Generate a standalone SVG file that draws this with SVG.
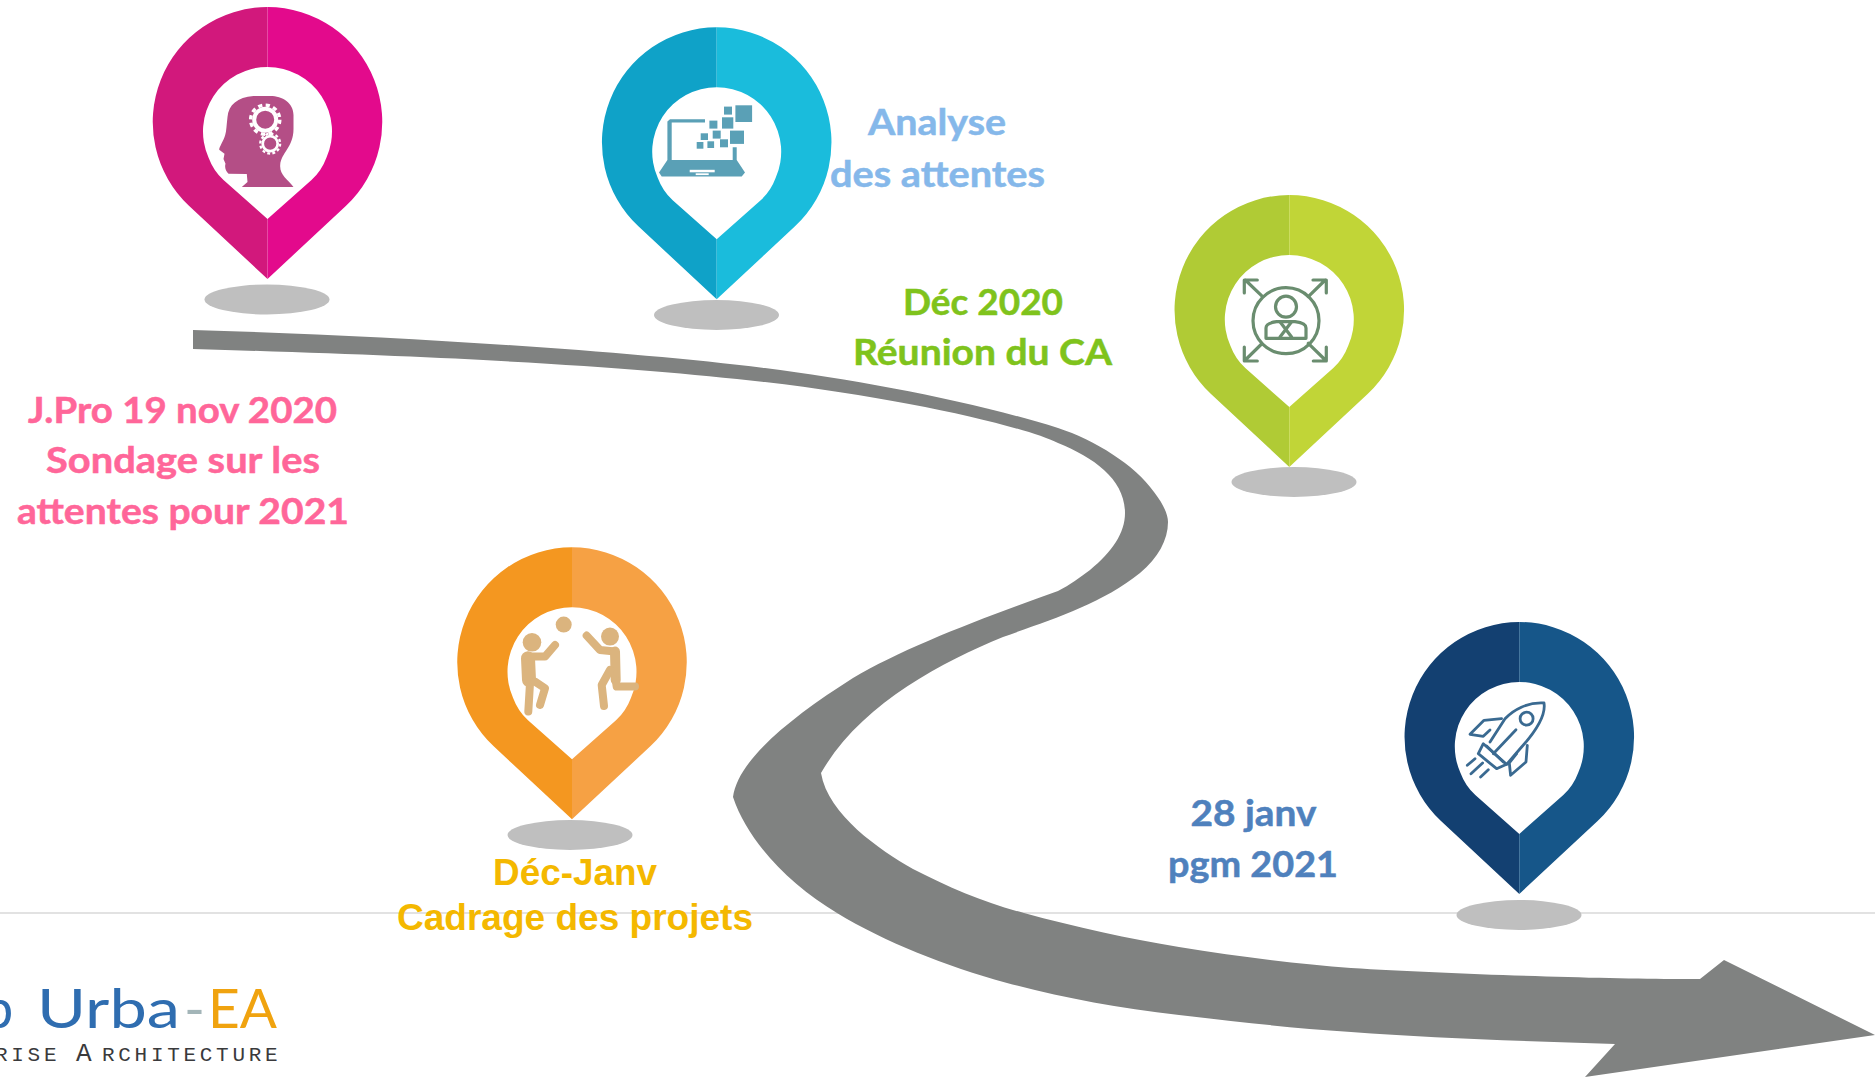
<svg xmlns="http://www.w3.org/2000/svg" width="1875" height="1077" viewBox="0 0 1875 1077">
<style>
.shadow{fill:#bfbfbf}
.hole{fill:#fff}
.lb{font-family:"Lato","Noto Sans",sans-serif;font-weight:700;font-size:35.500px;stroke-width:.5px}
.pink{fill:#ff6699;stroke:#ff6699}
.sky{fill:#85b8ea;stroke:#85b8ea}
.lime{fill:#7fc31c;stroke:#7fc31c}
.steel{fill:#4f81bd;stroke:#4f81bd}
.la{font-family:"Liberation Sans",Arial,sans-serif;font-weight:700;font-size:37px;fill:#f4b800}
.road{fill:#808281}
.logo{font-family:"Lato","Noto Sans",sans-serif;font-weight:400;font-size:54px}
.sub{font-family:"Liberation Mono",monospace;fill:#3a3a3c;font-size:21px;letter-spacing:3.700px}
.ln{fill:none;stroke-linecap:round;stroke-linejoin:round}
</style>
<defs>
<path id="pinL" d="M0 0A115 115 0 0 0-78.300 199L0 272Z"/>
<path id="pinR" d="M0 0A115 115 0 0 1 78.300 199L0 272Z"/>
<path id="hole" d="M0 212L-44 173Q-54 164 -59 150.500A64.500 64.500 0 1 1 59 150.500Q54 164 44 173Z"/>
<g id="gear">
<circle r="14.600" fill="none" stroke="#fff" stroke-width="3.400" stroke-dasharray="4.200 3.450"/>
<circle r="11" fill="#b44e86" stroke="#fff" stroke-width="4"/>
</g>
</defs>
<rect width="1875" height="1077" fill="#fff"/>
<line x1="0" y1="913" x2="1875" y2="913" stroke="#d9d9d9" stroke-width="1.600"/>
<g id="connectors">
<path class="road" d="M193 330C380 335 620 350 765 368C860 380 975 402 1058 428C1095 440 1135 465 1154 492C1164 505 1168 515 1168 522C1168 540 1158 558 1140 573C1100 605 1050 620 1003 637C940 663 860 705 821 773C828 815 880 850 913 869C950 888 985 903 1024 913C1075 927 1130 939 1179 947C1240 957 1300 964 1351 968C1450 974 1600 979 1680 979L1700 979L1724 960L1875 1035L1585 1077L1615 1044C1520 1041 1430 1038 1351 1032C1290 1028 1240 1022 1179 1015C1115 1008 1060 997 1007 983C945 966 885 942 837 913C790 885 748 842 733 797C738 760 790 718 853 678C905 647 985 617 1058 591C1070 585 1080 577 1090 570C1112 552 1125 533 1125 513C1125 480 1095 458 1058 443C1020 425 900 398 765 382C640 368 500 358 193 349Z"/>
</g>
<g id="node-jpro">
<ellipse class="shadow" cx="267" cy="299.500" rx="62.500" ry="15"/>
<g transform="translate(267.500 7)">
<use href="#pinL" fill="#d2187c"/><use href="#pinR" fill="#e30a8c"/><use href="#hole" class="hole"/>
<path fill="#b44e86" d="M26 180C20 172 12 168 12.700 158C13.500 146 26 140 26 122L26 108C26 96 15 89 2.700 89L-14 89C-30 90 -39 98 -40 110C-41 118 -41 124 -42.300 128C-44 134 -48.300 140 -48.300 142.700L-43 146.700L-44 152L-42 156.700C-43 160 -42 164 -39 166.700L-20.700 167L-20 175L-25.700 180Z"/>
<use href="#gear" transform="translate(-2.300 112.700)"/>
<use href="#gear" transform="translate(2.700 136.700) scale(.68)"/>
</g>
<text class="lb pink" x="28" y="422.500" textLength="309" lengthAdjust="spacingAndGlyphs">J.Pro 19 nov 2020</text>
<text class="lb pink" x="46" y="473" textLength="274" lengthAdjust="spacingAndGlyphs">Sondage sur les</text>
<text class="lb pink" x="17" y="523.500" textLength="332" lengthAdjust="spacingAndGlyphs">attentes pour 2021</text>
</g>
<g id="node-analyse">
<ellipse class="shadow" cx="716.500" cy="315" rx="62.500" ry="15"/>
<g transform="translate(716.700 27.300)">
<use href="#pinL" fill="#0fa2c8"/><use href="#pinR" fill="#1abcdc"/><use href="#hole" class="hole"/>
<path fill="#5aa0b6" fill-rule="evenodd" d="M-11.700 92L-46.700 92L-49.300 94.300L-49.300 132.700L-57.700 145.300L-55 149.300L25 149.300L28.300 145.300L20 132.700L20 120L16 120L16 132.700L-45 132.700L-45 95.300L-11.700 95.300Z"/>
<rect x="-27" y="142.500" width="25" height="2.500" fill="#fff"/><rect x="-21" y="146" width="13" height="1.800" fill="#fff"/>
<g fill="#5aa0b6">
<rect x="18.700" y="78" width="16.700" height="16.700"/><rect x="7.300" y="79.300" width="8" height="8"/><rect x="5.300" y="90" width="11.300" height="11.300"/><rect x="-7.300" y="93.300" width="8" height="8"/><rect x="13.300" y="103.300" width="14" height="13.300"/><rect x="-4" y="103.300" width="8" height="8"/><rect x="-16" y="106" width="7.300" height="6.700"/><rect x="3.300" y="112" width="8" height="8"/><rect x="-9.300" y="114" width="6.700" height="6.700"/><rect x="-20" y="114.700" width="6.700" height="6.700"/>
</g>
</g>
<text class="lb sky" x="868" y="135" textLength="138" lengthAdjust="spacingAndGlyphs">Analyse</text>
<text class="lb sky" x="830" y="187" textLength="215" lengthAdjust="spacingAndGlyphs">des attentes</text>
</g>
<g id="node-ca">
<ellipse class="shadow" cx="1294" cy="482" rx="62.500" ry="15"/>
<g transform="translate(1289.300 195)">
<use href="#pinL" fill="#b0cb35"/><use href="#pinR" fill="#c1d537"/><use href="#hole" class="hole"/>
<g class="ln" stroke="#6a8d6f" stroke-width="3.200" stroke-linecap="butt">
<circle cx="-3.300" cy="125.700" r="33"/>
<circle cx="-3.300" cy="111.700" r="10.500"/>
<path d="M-23.300 143.300V133Q-23.300 128 -12.700 126.700H5.700Q16.700 128 16.700 133V143.300Z"/>
<path d="M-9.300 126.700L2.300 142M2.300 126.700L-9.300 142"/>
<path d="M-26.700 101.700L-44 85M-45 98V85H-32M19 101.700L36 85M23.700 85H37V98M-27.700 149L-44 165M-45 152V166H-32M19 148.300L36 165M37 152V166H24"/>
</g>
</g>
<text class="lb lime" x="903" y="314.500" textLength="160" lengthAdjust="spacingAndGlyphs">Déc 2020</text>
<text class="lb lime" x="853" y="365" textLength="259" lengthAdjust="spacingAndGlyphs">Réunion du CA</text>
</g>
<g id="node-cadrage">
<ellipse class="shadow" cx="570" cy="835" rx="62.500" ry="15"/>
<g transform="translate(572 547.300)">
<use href="#pinL" fill="#f49720"/><use href="#pinR" fill="#f6a144"/><use href="#hole" class="hole"/>
<circle cx="-8.300" cy="77.300" r="8" fill="#dbb47e"/>
<circle cx="-40" cy="95" r="9.300" fill="#dbb47e"/>
<circle cx="38" cy="89.300" r="9" fill="#dbb47e"/>
<g class="ln" stroke="#dbb47e" stroke-width="8">
<path d="M-44 111L-43 132.700" stroke-width="14"/>
<path d="M-42 109.300H-27L-17 97.700"/>
<path d="M-42 136L-43.700 164.300"/>
<path d="M-37 134.300L-27 141L-32 157.700"/>
<path d="M14.700 88.300L28 102.700L43 104.300"/>
<path d="M43 104.300L43.700 132.700" stroke-width="10"/>
<path d="M38 122.700L29.700 137.700L32 158.700"/>
<path d="M43.700 132.700L44.700 139.300H63"/>
</g>
</g>
<text class="la" x="493" y="885" textLength="164" lengthAdjust="spacingAndGlyphs">Déc-Janv</text>
<text class="la" x="397" y="930" textLength="356" lengthAdjust="spacingAndGlyphs">Cadrage des projets</text>
</g>
<g id="node-pgm">
<ellipse class="shadow" cx="1519" cy="915" rx="62.500" ry="15"/>
<g transform="translate(1519.300 622)">
<use href="#pinL" fill="#134071"/><use href="#pinR" fill="#165689"/><use href="#hole" class="hole"/>
<g class="ln" stroke="#3a6a91" stroke-width="2.800">
<path d="M-29.300 120L-14.300 96.700C-6 88 8 80 24.700 81C27 95 14 112 2.300 125L-12.700 142.300"/>
<path d="M-36 121.700L-41 131.700L-22.700 146.700L-12.700 142.300Z"/>
<path d="M-32.700 124L-16 140"/>
<path d="M-26 131.700L-3.300 107.700"/>
<circle cx="7.300" cy="96.700" r="6.500"/>
<path d="M-17.700 96.700L-35.300 98.300L-49.300 112.300L-36 114.300L-29.300 108"/>
<path d="M8 123.300L6.700 140L-8.700 153.300L-10 141L-2.700 131.700"/>
<path d="M-52 143.300L-44.300 136.700M-48.300 151.700L-36.700 141M-38.700 155L-31 147.700"/>
</g>
</g>
<text class="lb steel" x="1190.500" y="826" textLength="126" lengthAdjust="spacingAndGlyphs">28 janv</text>
<text class="lb steel" x="1168" y="876.500" textLength="170" lengthAdjust="spacingAndGlyphs">pgm 2021</text>
</g>
<g id="logo">
<text class="logo" x="-17" y="1028" fill="#2f6db0">b</text>
<text class="logo" x="37" y="1028" fill="#2f6db0" textLength="143" lengthAdjust="spacingAndGlyphs">Urba</text>
<text class="logo" x="184" y="1028" fill="#a3b5b8" textLength="21" lengthAdjust="spacingAndGlyphs">-</text>
<text class="logo" x="208" y="1028" fill="#f0a30f" textLength="69" lengthAdjust="spacingAndGlyphs">EA</text>
<text class="sub" x="-5" y="1060.500">RISE</text>
<text x="76" y="1060.500" font-family="Liberation Mono,monospace" font-size="26" fill="#3a3a3c">A</text>
<text class="sub" x="102" y="1060.500">RCHITECTURE</text>
</g>
</svg>
